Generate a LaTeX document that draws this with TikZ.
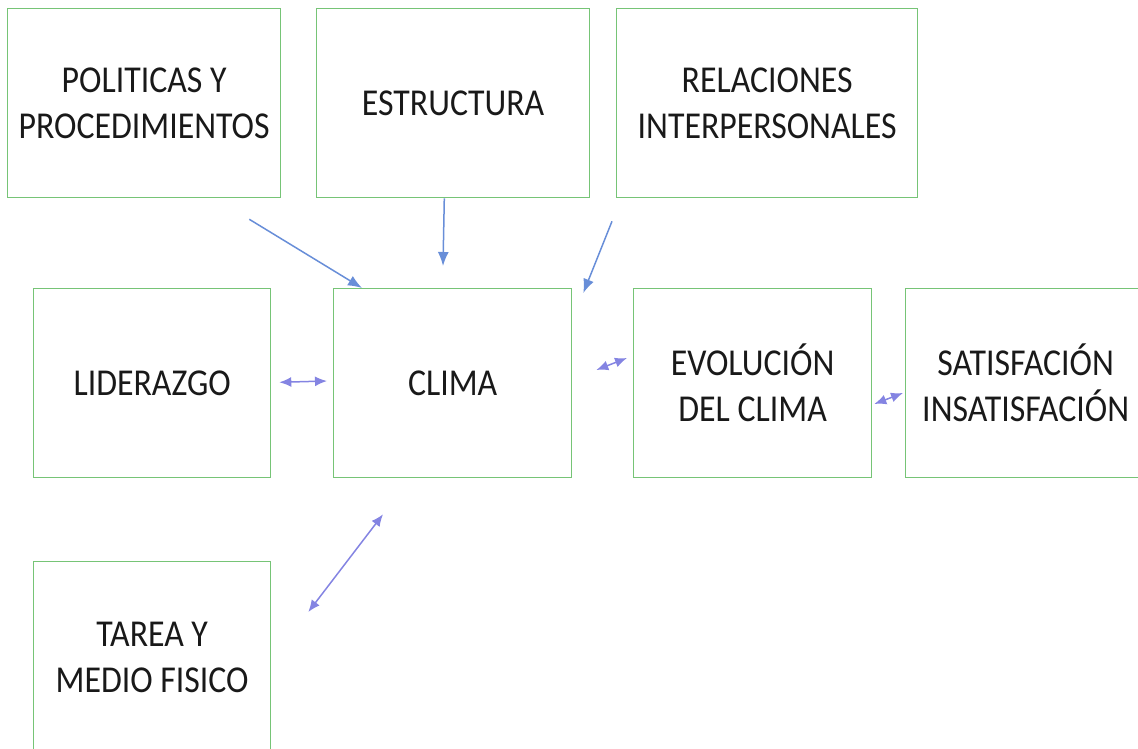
\documentclass[tikz,border=0pt]{standalone}
\usepackage{fontspec}
\setmainfont[FakeStretch=0.89]{Carlito}
\usetikzlibrary{positioning, arrows.meta, calc}
\definecolor{verdecaja}{RGB}{118,196,118}
\definecolor{azulflecha}{RGB}{104,142,216}
\definecolor{moradoflecha}{RGB}{132,132,226}
\tikzset{
  caja/.style={rectangle, draw=verdecaja, line width=1.3pt, anchor=north west, inner sep=0pt, align=center, text=black!90, font=\fontsize{38}{46}\selectfont},
  flecha/.style={azulflecha, line width=1.5pt, -{Latex[length=14pt,width=11pt]}},
  doble/.style={moradoflecha, line width=1.5pt, {Latex[length=12pt,width=10pt]}-{Latex[length=12pt,width=10pt]}}
}

\begin{document}
\begin{tikzpicture}[x=1pt, y=-1pt]

  \useasboundingbox (0,0) rectangle (1138,749);
  \clip (0,0) rectangle (1138,749);

  % Fila superior
  \node[caja, minimum width=273pt, minimum height=189pt] (poli) at (7,8) {POLITICAS Y\\PROCEDIMIENTOS};
  \node[caja, minimum width=273pt, minimum height=189pt] (estr) at (316,8) {ESTRUCTURA};
  \node[caja, minimum width=301pt, minimum height=189pt] (rela) at (616,8) {RELACIONES\\INTERPERSONALES};

  % Fila central
  \node[caja, minimum width=237pt, minimum height=189pt] (lide) at (33,288) {LIDERAZGO};
  \node[caja, minimum width=238pt, minimum height=189pt] (clima) at (333,288) {CLIMA};
  \node[caja, minimum width=238pt, minimum height=189pt] (evol) at (633,288) {EVOLUCIÓN\\DEL CLIMA};
  \node[caja, minimum width=240pt, minimum height=189pt] (sati) at (905,288) {SATISFACIÓN\\INSATISFACIÓN};

  % Fila inferior
  \node[caja, minimum width=237pt, minimum height=192pt] (tarea) at (33,561) {TAREA Y\\MEDIO FISICO};

  % Influencias sobre el clima
  \draw[flecha] ([shift={(-32,21)}]poli.south east) -- ([shift={(29,0)}]clima.north west);
  \draw[flecha] ([shift={(-146,0)}]estr.south east) -- ([shift={(110,-22)}]clima.north west);
  \draw[flecha] ([shift={(-4,23)}]rela.south west) -- ([shift={(11,5)}]clima.north east);

  % Relaciones dobles
  \draw[doble] ([shift={(8,-96)}]lide.south east) -- ([shift={(-6,93)}]clima.north west);
  \draw[doble] ([shift={(24,82)}]clima.north east) -- ([shift={(-6,70)}]evol.north west);
  \draw[doble] ([shift={(2,116)}]evol.north east) -- ([shift={(-2,105)}]sati.north west);
  \draw[doble] ([shift={(50,36)}]clima.south west) -- ([shift={(37,51)}]tarea.north east);

\end{tikzpicture}
\end{document}
